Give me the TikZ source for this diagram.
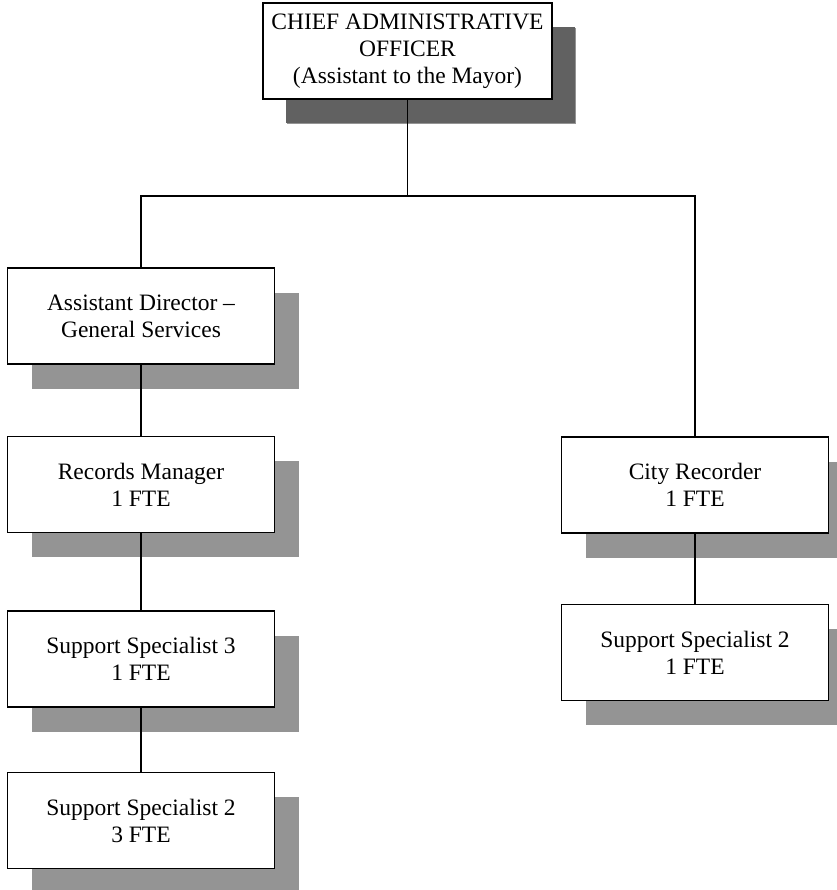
\documentclass[tikz,border=0pt]{standalone}
\usepackage{fontspec}
\setmainfont{Liberation Serif}
\usetikzlibrary{shadows}
\begin{document}
\begin{tikzpicture}[x=1pt,y=1pt,
  orgbox/.style={draw=black, fill=white, line width=1.8pt, inner sep=0pt,
    minimum width=267pt, minimum height=96pt, align=center,
    font=\fontsize{23.5}{27}\selectfont,
    general shadow={fill=black!42, shadow xshift=24pt, shadow yshift=-25pt}},
  topbox/.style={orgbox, minimum width=289pt,
    general shadow={fill=black!62, shadow xshift=23pt, shadow yshift=-24pt}},
  link/.style={draw=black, line width=1.8pt}]
\useasboundingbox (0,0) rectangle (836,890);
\node[topbox] (ceo) at (407.5,839) {CHIEF ADMINISTRATIVE\\OFFICER\\(Assistant to the Mayor)};
\node[orgbox] (ad) at (141,574) {Assistant Director --\\General Services};
\node[orgbox] (rm) at (141,405.5) {Records Manager\\1 FTE};
\node[orgbox] (ss3) at (141,231) {Support Specialist 3\\1 FTE};
\node[orgbox] (ss2l) at (141,69.5) {Support Specialist 2\\3 FTE};
\node[orgbox] (cr) at (695,405) {City Recorder\\1 FTE};
\node[orgbox] (ss2r) at (695,237.5) {Support Specialist 2\\1 FTE};
\coordinate (bar) at (407.5,694);
\draw[link] (ceo.south) -- (bar);
\draw[link] (ad.north) |- (bar);
\draw[link] (cr.north) |- (bar);
\draw[link] (ad.south) -- (rm.north);
\draw[link] (rm.south) -- (ss3.north);
\draw[link] (ss3.south) -- (ss2l.north);
\draw[link] (cr.south) -- (ss2r.north);
\end{tikzpicture}
\end{document}
